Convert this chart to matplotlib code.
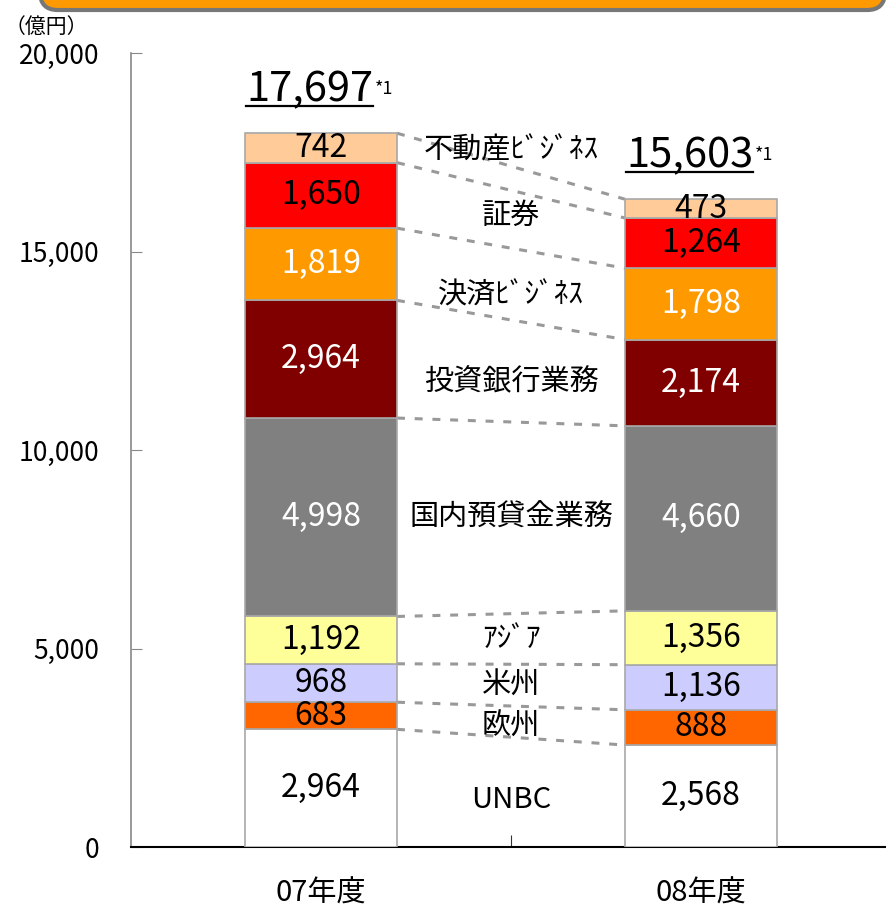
import numpy as np
import matplotlib
matplotlib.use("Agg")
import matplotlib.pyplot as plt
from matplotlib.patches import FancyBboxPatch
from matplotlib.lines import Line2D

plt.rcParams['font.family'] = ['Noto Sans CJK JP', 'DejaVu Sans']

# data (bottom -> top)
years = ["07年度", "08年度"]
segments = ["UNBC", "欧州", "米州", "ｱｼﾞｱ", "国内預貸金業務",
            "投資銀行業務", "決済ﾋﾞｼﾞﾈｽ", "証券", "不動産ﾋﾞｼﾞﾈｽ"]
vals_07 = [2964, 683, 968, 1192, 4998, 2964, 1819, 1650, 742]
vals_08 = [2568, 888, 1136, 1356, 4660, 2174, 1798, 1264, 473]
totals = ["17,697", "15,603"]

colors = ["#FFFFFF", "#FF6600", "#CCCCFF", "#FFFF99", "#808080",
          "#800000", "#FF9900", "#FF0000", "#FFCC99"]
txt_07 = ["black", "black", "black", "black", "white", "white", "white", "black", "black"]
txt_08 = ["black", "black", "black", "black", "white", "white", "white", "black", "black"]
# y position of the middle (segment name) labels
name_y = [1190, 3030, 4060, 5250, 8300, 11700, 13880, 15900, 17550]

fig = plt.figure(figsize=(8.86, 9.10), dpi=100)
ax = fig.add_axes([131/886, 63/910, 760/886, 794/910])

xs = np.arange(len(years))
w = 0.4
data = np.array([vals_07, vals_08])
bottoms = np.zeros(2)
tops = []
for i, seg in enumerate(segments):
    h = data[:, i]
    ax.bar(xs, h, w, bottom=bottoms, color=colors[i], edgecolor="#A8A8A8",
           linewidth=1.2, zorder=3)
    for j in range(2):
        tc = txt_07[i] if j == 0 else txt_08[i]
        ax.text(xs[j], bottoms[j] + h[j] / 2, f"{h[j]:,}", ha="center", va="center",
                fontsize=23, color=tc, zorder=4)
    bottoms = bottoms + h
    tops.append(bottoms.copy())
    ax.text(0.5, name_y[i], seg, ha="center", va="center", fontsize=21, zorder=4)

# dashed connectors between the bars
for t in tops:
    ax.plot([xs[0] + w / 2, xs[1] - w / 2], [t[0], t[1]], color="#999999",
            lw=2.2, dashes=(2.6, 3.2), zorder=2)

ax.set_xlim(-0.5, 1.5)
ax.set_ylim(0, 20000)
ax.set_yticks([0, 5000, 10000, 15000, 20000])
ax.set_yticklabels([f"{v:,}" for v in [0, 5000, 10000, 15000, 20000]], fontsize=19)
ax.set_xticks([0.5])
ax.set_xticklabels([""])
ax.tick_params(axis="y", direction="in", length=8, color="#888888", pad=23)
ax.tick_params(axis="x", direction="in", length=9, color="#333333")
for s in ["top", "right"]:
    ax.spines[s].set_visible(False)
ax.spines["left"].set_color("#888888")
ax.spines["left"].set_linewidth(1.2)
ax.spines["bottom"].set_color("black")
ax.spines["bottom"].set_linewidth(1.5)

for j, yr in enumerate(years):
    ax.text(xs[j], -1180, yr, ha="center", va="center", fontsize=21)

# totals with underline and footnote mark
fig.canvas.draw()
r = fig.canvas.get_renderer()
inv = fig.transFigure.inverted()
for j in range(2):
    t = ax.text(xs[j] - 0.03, tops[-1][j] + 1100, totals[j], ha="center", va="center",
                fontsize=30, zorder=4)
    bb = t.get_window_extent(renderer=r)
    (x0, y0), (x1, y1) = inv.transform([[bb.x0, bb.y0], [bb.x1, bb.y1]])
    fig.add_artist(Line2D([x0, x1], [y0 + 0.004, y0 + 0.004], color="black", lw=1.6))
    fig.text(x1 + 0.002, y1 - 0.012, "*1", fontsize=13, ha="left", va="top")

fig.text(5/886, 1 - 27/910, "（億円）", fontsize=15, ha="left", va="center")

# orange header box, mostly cut off at the top
box = FancyBboxPatch((40/886, 1 - 10/910), 845/886, 0.08,
                     boxstyle="round,pad=0,rounding_size=0.02",
                     transform=fig.transFigure, facecolor="#FF9900",
                     edgecolor="#777777", linewidth=3, clip_on=False)
fig.add_artist(box)

fig.savefig("out.png", dpi=100)
